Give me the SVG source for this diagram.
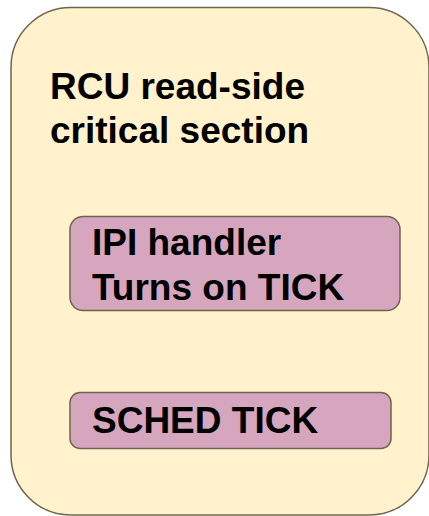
<svg xmlns="http://www.w3.org/2000/svg" width="429" height="516" viewBox="0 0 429 516">
<style>
.outer{fill:#fff2cc;stroke:#6f6450;stroke-width:1.5}
.inner{fill:#d5a6bd;stroke:#6f6450;stroke-width:1.5}
.t{font-family:"Liberation Sans",Arial,sans-serif;font-weight:bold;font-size:37px;fill:#000}
</style>
<rect width="429" height="516" fill="#ffffff"/>
<g id="rcu">
<rect class="outer" x="11" y="7.5" width="418" height="507.5" rx="60" ry="60"/>
<text class="t" x="50" y="99">RCU read-side</text>
<text class="t" x="50" y="143">critical section</text>
</g>
<g id="ipi">
<rect class="inner" x="70" y="216.5" width="330" height="94" rx="13" ry="13"/>
<text class="t" x="92" y="255">IPI handler</text>
<text class="t" x="92" y="299.5">Turns on TICK</text>
</g>
<g id="sched">
<rect class="inner" x="70" y="392.5" width="321" height="56" rx="10" ry="10"/>
<text class="t" x="92" y="433">SCHED TICK</text>
</g>
<g id="connectors"/>
</svg>
